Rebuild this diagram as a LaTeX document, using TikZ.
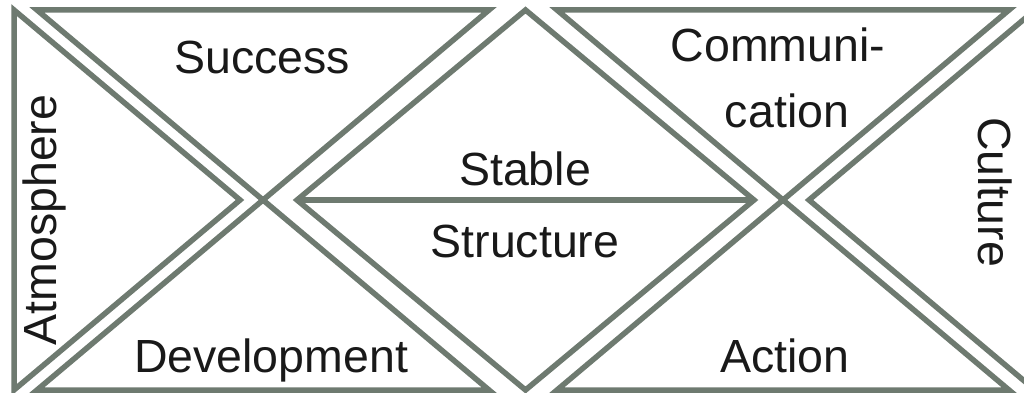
\documentclass[tikz,border=0pt]{standalone}
\usepackage{fontspec}
\setmainfont{Liberation Sans}
\definecolor{framegray}{RGB}{110,122,112}
\definecolor{txt}{RGB}{25,25,25}
\begin{document}
\begin{tikzpicture}[x=1pt,y=-1pt,
  tri/.style={draw=framegray,line width=5.5pt,line join=miter},
  lbl/.style={font=\fontsize{46.5}{50}\selectfont,text=txt,inner sep=0pt,anchor=base}]
\useasboundingbox (0,0) rectangle (1024,393);
\clip (0,0) rectangle (1024,393);
% left group
\draw[tri] (14,10) -- (240,200) -- (14,390) -- cycle;
\draw[tri] (37,10) -- (489,10) -- (263,200) -- cycle;
\draw[tri] (37,390) -- (489,390) -- (263,200) -- cycle;
% center diamond
\coordinate (dl) at (297,200);
\coordinate (dr) at (754,200);
\draw[tri] (525.5,10) -- (dr) -- (525.5,390) -- (dl) -- cycle;
\draw[tri] (dl) -- (dr);
% right group
\draw[tri] (557,10) -- (1009,10) -- (783,200) -- cycle;
\draw[tri] (557,390) -- (1009,390) -- (783,200) -- cycle;
\draw[tri] (809,200) -- (1035,10) -- (1080,10) -- (1080,390) -- (1035,390) -- cycle;
% labels
\node[lbl] (success) at (262,74) {Success};
\node[lbl,rotate=90] (atmo) at (56,220) {Atmosphere};
\node[lbl] (dev) at (271,372) {Development};
\node[lbl] (stable) at (525,185) {Stable};
\node[lbl] (struct) at (525,257) {Structure};
\node[lbl] (comm1) at (778,62) {Communi-};
\node[lbl] (comm2) at (787,127) {cation};
\node[lbl,rotate=-90] (cult) at (978,192) {Culture};
\node[lbl] (action) at (785,372) {Action};
\end{tikzpicture}
\end{document}
